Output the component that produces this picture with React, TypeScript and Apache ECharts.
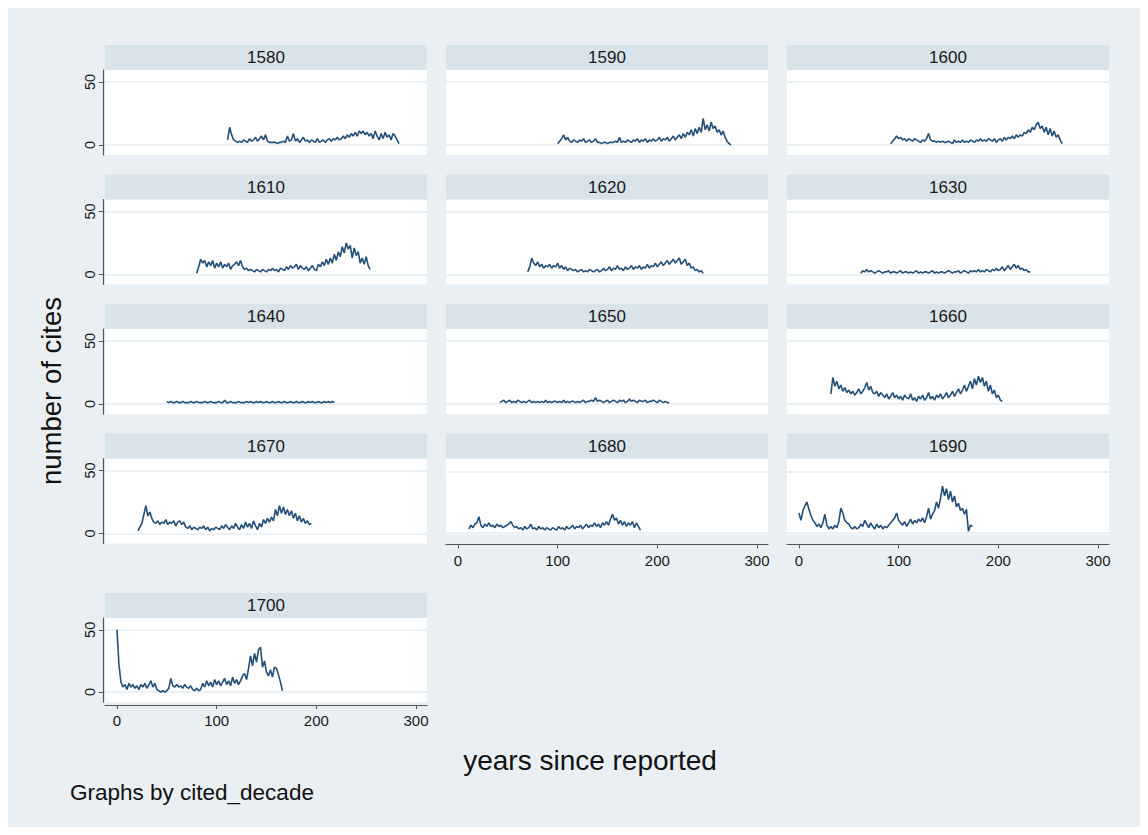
import React, { useEffect, useRef } from "react";
import * as echarts from "echarts";

// ---------- data ----------
const DECADES = ["1580", "1590", "1600", "1610", "1620", "1630", "1640", "1650", "1660", "1670", "1680", "1690", "1700"];
const START_YEARS = [111, 100, 92, 80, 70, 62, 50, 42, 32, 21, 11, 0, 0];
const STEP = 2;

const CITES_1580 = [4, 14, 8, 4, 3, 2, 3, 2, 4, 3, 2, 5, 3, 4, 6, 3, 5, 7, 4, 8, 3, 2, 2, 2, 2, 1, 2, 2, 3, 2, 7, 3, 4, 9, 3, 5, 2, 4, 6, 3, 4, 2, 4, 3, 2, 5, 2, 3, 4, 2, 4, 5, 3, 5, 4, 6, 4, 5, 7, 5, 8, 6, 9, 7, 10, 7, 11, 9, 11, 8, 10, 7, 9, 5, 11, 7, 4, 9, 5, 10, 6, 8, 4, 9, 7, 4, 1];
const CITES_1590 = [1, 3, 5, 8, 4, 6, 3, 2, 4, 3, 2, 4, 3, 5, 2, 3, 4, 2, 3, 5, 2, 2, 1, 2, 2, 1, 2, 2, 2, 3, 2, 6, 2, 3, 2, 4, 3, 2, 4, 3, 5, 2, 4, 3, 5, 2, 4, 3, 5, 3, 4, 6, 3, 5, 4, 6, 3, 5, 7, 4, 6, 8, 5, 9, 6, 10, 8, 12, 7, 13, 9, 14, 10, 21, 12, 16, 11, 18, 13, 15, 10, 12, 8, 11, 6, 3, 1, 0];
const CITES_1600 = [1, 3, 5, 7, 5, 6, 4, 5, 3, 5, 4, 3, 5, 4, 3, 2, 4, 3, 5, 9, 4, 3, 3, 2, 3, 2, 3, 2, 2, 3, 2, 1, 4, 2, 3, 2, 4, 2, 3, 2, 4, 3, 2, 4, 3, 5, 3, 4, 3, 5, 4, 3, 5, 2, 4, 5, 3, 6, 4, 6, 5, 7, 5, 8, 6, 8, 7, 10, 9, 12, 10, 14, 12, 16, 18, 13, 15, 10, 14, 8, 13, 7, 11, 6, 8, 4, 1];
const CITES_1610 = [1, 6, 12, 9, 11, 6, 10, 7, 11, 5, 9, 6, 10, 5, 8, 6, 9, 4, 7, 8, 10, 7, 11, 6, 4, 5, 3, 4, 3, 2, 4, 3, 2, 4, 3, 2, 4, 3, 5, 3, 4, 2, 5, 4, 3, 6, 4, 7, 5, 6, 8, 4, 7, 5, 4, 6, 3, 5, 7, 4, 3, 8, 6, 10, 7, 12, 8, 13, 9, 16, 11, 18, 14, 22, 17, 25, 20, 23, 13, 21, 15, 18, 9, 13, 8, 14, 7, 4];
const CITES_1620 = [2, 6, 13, 9, 7, 10, 6, 8, 5, 7, 6, 8, 5, 7, 6, 9, 5, 7, 4, 6, 3, 5, 4, 3, 4, 2, 3, 4, 2, 3, 2, 4, 3, 2, 3, 4, 2, 3, 5, 3, 4, 6, 3, 5, 4, 7, 4, 5, 3, 6, 4, 5, 7, 4, 6, 5, 7, 4, 6, 5, 8, 5, 7, 6, 9, 6, 8, 10, 7, 9, 11, 8, 10, 12, 9, 11, 13, 8, 10, 12, 7, 9, 5, 6, 3, 4, 2, 3, 1];
const CITES_1630 = [1, 3, 2, 4, 2, 3, 2, 1, 2, 3, 2, 1, 2, 2, 3, 1, 2, 2, 1, 2, 3, 1, 2, 2, 1, 2, 1, 2, 3, 1, 2, 1, 2, 2, 1, 2, 3, 1, 2, 1, 2, 2, 1, 2, 3, 2, 1, 2, 2, 3, 1, 2, 3, 2, 1, 3, 2, 3, 2, 4, 2, 3, 2, 4, 3, 2, 4, 3, 5, 3, 4, 6, 3, 5, 7, 4, 6, 8, 5, 7, 4, 5, 3, 4, 2, 2];
const CITES_1640 = [2, 1, 2, 1, 1, 2, 1, 1, 2, 1, 1, 1, 2, 1, 1, 2, 1, 1, 1, 2, 1, 1, 2, 1, 1, 1, 2, 1, 1, 3, 1, 1, 2, 1, 1, 1, 2, 1, 1, 1, 2, 1, 2, 1, 1, 2, 1, 2, 1, 1, 2, 1, 1, 2, 1, 1, 2, 1, 1, 2, 1, 1, 2, 1, 1, 2, 1, 1, 2, 1, 1, 2, 1, 2, 1, 1, 2, 1, 1, 2, 1, 2, 1, 2, 1];
const CITES_1650 = [1, 2, 3, 1, 2, 3, 1, 2, 1, 3, 2, 1, 2, 1, 2, 3, 1, 2, 1, 2, 1, 2, 1, 3, 1, 2, 1, 2, 2, 1, 2, 1, 3, 1, 2, 1, 2, 2, 1, 2, 1, 2, 3, 1, 2, 2, 3, 2, 5, 2, 3, 2, 1, 2, 3, 1, 2, 3, 2, 1, 3, 2, 3, 1, 2, 4, 2, 3, 2, 1, 3, 2, 2, 3, 1, 2, 2, 3, 2, 1, 3, 2, 1, 2, 1, 1];
const CITES_1660 = [8, 21, 14, 18, 12, 15, 10, 13, 9, 11, 8, 10, 7, 9, 12, 8, 10, 13, 17, 11, 14, 9, 8, 10, 6, 9, 7, 5, 8, 4, 6, 9, 5, 7, 4, 6, 3, 7, 5, 4, 8, 3, 5, 2, 6, 4, 7, 3, 5, 9, 4, 6, 3, 7, 5, 8, 4, 6, 9, 5, 7, 10, 6, 9, 12, 8, 11, 15, 10, 14, 18, 12, 20, 15, 22, 17, 21, 14, 18, 10, 15, 8, 11, 5, 7, 3, 2];
const CITES_1670 = [2, 5, 8, 15, 22, 14, 17, 12, 9, 8, 10, 7, 9, 8, 11, 7, 9, 8, 10, 6, 9, 10, 7, 9, 5, 4, 6, 3, 5, 4, 3, 5, 4, 6, 3, 5, 2, 4, 3, 5, 4, 3, 6, 4, 7, 5, 3, 6, 4, 8, 5, 3, 7, 4, 9, 5, 8, 4, 10, 6, 3, 8, 5, 11, 8, 12, 9, 13, 10, 19, 14, 22, 16, 21, 15, 19, 14, 18, 12, 16, 10, 14, 9, 12, 8, 10, 7, 8];
const CITES_1680 = [3, 6, 4, 7, 8, 13, 6, 4, 7, 5, 8, 5, 6, 4, 7, 5, 6, 4, 5, 6, 7, 9, 6, 4, 5, 3, 4, 2, 5, 3, 4, 7, 3, 4, 2, 5, 3, 4, 2, 4, 3, 2, 4, 3, 2, 5, 3, 4, 2, 5, 3, 4, 6, 3, 5, 4, 6, 3, 5, 7, 4, 6, 5, 8, 5, 7, 4, 8, 6, 9, 6, 11, 15, 10, 12, 7, 10, 6, 9, 5, 8, 6, 9, 4, 8, 5, 2];
const CITES_1690 = [16, 10, 18, 22, 25, 19, 14, 10, 8, 5, 7, 4, 8, 15, 6, 3, 5, 3, 6, 4, 9, 20, 16, 10, 8, 7, 4, 3, 5, 3, 4, 7, 5, 10, 7, 4, 8, 5, 3, 7, 4, 6, 3, 5, 4, 6, 8, 10, 12, 16, 10, 8, 6, 9, 5, 8, 11, 7, 10, 8, 11, 9, 12, 8, 13, 20, 11, 15, 18, 25, 20, 28, 38, 30, 36, 27, 34, 25, 30, 21, 24, 18, 20, 15, 19, 1, 6, 5];
const CITES_1700 = [50, 22, 8, 4, 6, 2, 7, 4, 6, 3, 5, 2, 6, 4, 7, 3, 6, 9, 4, 7, 2, 1, 0, 1, 0, 1, 3, 11, 5, 4, 6, 4, 5, 3, 6, 4, 3, 5, 2, 1, 3, 1, 2, 7, 4, 9, 5, 8, 4, 10, 6, 9, 5, 8, 11, 6, 9, 5, 12, 7, 10, 6, 9, 13, 15, 10, 19, 29, 21, 31, 24, 34, 36, 20, 25, 16, 13, 18, 12, 20, 19, 14, 8, 1];

const SERIES_VALUES = [
  CITES_1580, CITES_1590, CITES_1600, CITES_1610, CITES_1620, CITES_1630, CITES_1640,
  CITES_1650, CITES_1660, CITES_1670, CITES_1680, CITES_1690, CITES_1700,
];

const X_TICKS = [0, 100, 200, 300];
const Y_TICKS = [0, 50];

// ---------- layout / style ----------
const FONT = "'Liberation Sans', Arial, Helvetica, sans-serif";
const BG = "#e9eff2";
const STRIP = "#d8e3ea";
const GRIDLINE = "#e4ebf0";
const LINE = "#234f78";
const AXIS = "#555555";
const COL_LEFT = [97, 438, 779];
const PLOT_W = 322;
const HEADER_TOP = [37, 166.5, 296, 425.5, 585];
const HEADER_H = 25;

export default function App() {
  const ref = useRef<HTMLDivElement>(null);

  useEffect(() => {
    if (!ref.current) return;
    const chart = echarts.init(ref.current, undefined, { renderer: "svg" });

    const grid: any[] = [];
    const xAxis: any[] = [];
    const yAxis: any[] = [];
    const series: any[] = [];
    const graphic: any[] = [];

    DECADES.forEach((decade, k) => {
      const row = Math.floor(k / 3);
      const col = k % 3;
      const left = COL_LEFT[col];
      const hTop = HEADER_TOP[row];
      const top = hTop + HEADER_H;
      const shortPanel = k === 10 || k === 11;
      const height = shortPanel ? 76 : k === 12 ? 84 : 85;
      const yMin = shortPanel ? -1.6 : -8;
      const yMax = shortPanel ? 60.7 : 59.5;
      const showX = k >= 10;
      const showY = col === 0;

      grid.push({
        left,
        top,
        width: PLOT_W,
        height,
        show: true,
        backgroundColor: "#ffffff",
        borderWidth: 0,
      });

      xAxis.push({
        type: "value",
        gridIndex: k,
        min: -12,
        max: 311,
        show: showX,
        offset: k === 12 ? 3 : 10,
        axisLine: { show: true, onZero: false, lineStyle: { color: AXIS, width: 1.2 } },
        axisTick: { show: true, length: 4, customValues: X_TICKS, lineStyle: { color: AXIS } },
        axisLabel: { customValues: X_TICKS, margin: 8, fontSize: 15, color: "#1a1a1a", fontFamily: FONT },
        splitLine: { show: false },
      });

      yAxis.push({
        type: "value",
        gridIndex: k,
        min: yMin,
        max: yMax,
        show: showY,
        offset: 2,
        axisLine: { show: true, onZero: false, lineStyle: { color: AXIS, width: 1.2 } },
        axisTick: { show: true, length: 4, customValues: Y_TICKS, lineStyle: { color: AXIS } },
        axisLabel: { customValues: Y_TICKS, rotate: 90, margin: 6, fontSize: 14.5, color: "#1a1a1a", fontFamily: FONT },
        splitLine: { show: false },
      });

      const vals = SERIES_VALUES[k];
      const start = START_YEARS[k];
      series.push({
        type: "line",
        xAxisIndex: k,
        yAxisIndex: k,
        data: vals.map((v, i) => [start + i * STEP, v]),
        showSymbol: false,
        symbol: "none",
        z: 3,
        lineStyle: { color: LINE, width: 1.6 },
        markLine: {
          silent: true,
          symbol: "none",
          z: 1,
          label: { show: false },
          lineStyle: { color: GRIDLINE, width: 1.5, type: "solid" },
          data: Y_TICKS.map((v) => ({ yAxis: v })),
        },
      });

      graphic.push({
        type: "rect",
        shape: { x: left, y: hTop, width: PLOT_W, height: HEADER_H },
        style: { fill: STRIP },
        silent: true,
      });
      graphic.push({
        type: "text",
        x: left + PLOT_W / 2,
        y: hTop + HEADER_H / 2,
        style: {
          text: decade,
          fill: "#1a1a1a",
          font: `17px ${FONT}`,
          textAlign: "center",
          textVerticalAlign: "middle",
        },
        silent: true,
      });
    });

    graphic.push({
      type: "text",
      x: 43,
      y: 383,
      rotation: Math.PI / 2,
      style: {
        text: "number of cites",
        fill: "#111",
        font: `27.5px ${FONT}`,
        textAlign: "center",
        textVerticalAlign: "middle",
      },
      silent: true,
    });
    graphic.push({
      type: "text",
      x: 582,
      y: 752,
      style: {
        text: "years since reported",
        fill: "#111",
        font: `28px ${FONT}`,
        textAlign: "center",
        textVerticalAlign: "middle",
      },
      silent: true,
    });
    graphic.push({
      type: "text",
      x: 62,
      y: 784,
      style: {
        text: "Graphs by cited_decade",
        fill: "#111",
        font: `22.5px ${FONT}`,
        textAlign: "left",
        textVerticalAlign: "middle",
      },
      silent: true,
    });

    chart.setOption({
      animation: false,
      backgroundColor: BG,
      grid,
      xAxis,
      yAxis,
      series,
      graphic,
    });

    return () => chart.dispose();
  }, []);

  return <div ref={ref} style={{ width: 1132, height: 819 }} />;
}
